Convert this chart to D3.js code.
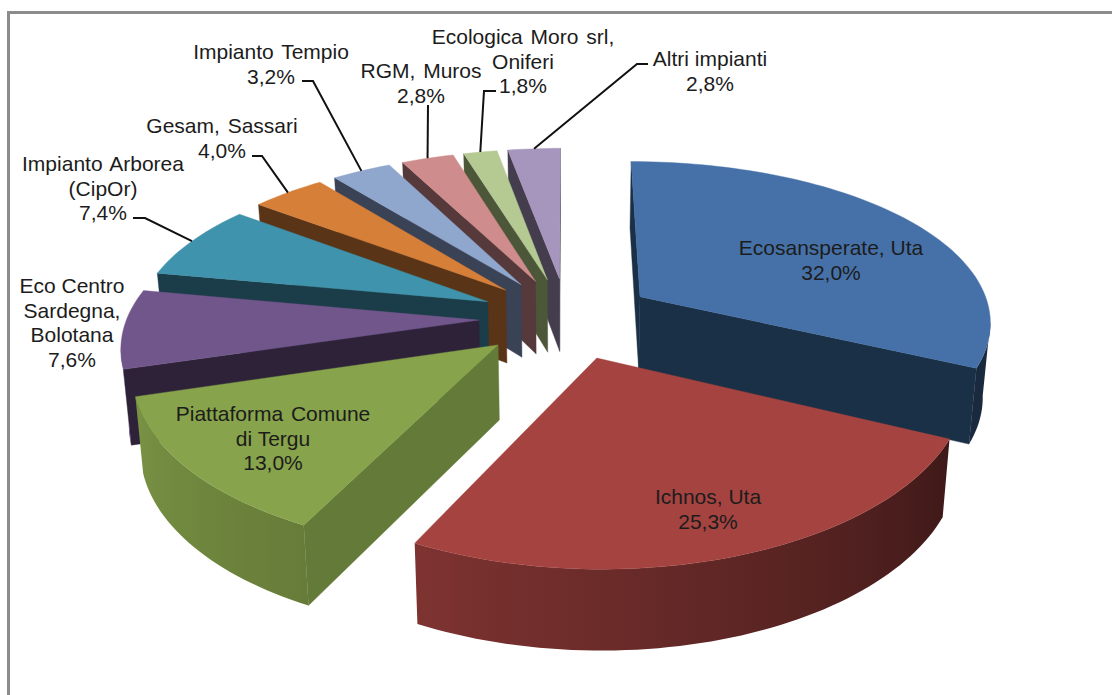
<!DOCTYPE html>
<html><head><meta charset="utf-8">
<script src="https://cdn.jsdelivr.net/npm/d3@7/dist/d3.min.js"></script>
<style>html,body{margin:0;padding:0;background:#fff;overflow:hidden}svg{display:block}text{font-family:"Liberation Sans",Arial,sans-serif;font-size:21px;fill:#1c1c1c}</style>
</head><body><svg id="c" width="1112" height="695"></svg>
<script>
const names=[["Ecosansperate, Uta"],["Ichnos, Uta"],["Piattaforma Comune","di Tergu"],["Eco Centro","Sardegna,","Bolotana"],["Impianto Arborea","(CipOr)"],["Gesam, Sassari"],["Impianto Tempio"],["RGM, Muros"],["Ecologica Moro srl,","Oniferi"],["Altri impianti"]];
const values=[32.0,25.3,13.0,7.6,7.4,4.0,3.2,2.8,1.8,2.8];
const topColors=["#4671a8","#a54340","#87a34b","#71568c","#3f93ac","#d67f39","#8fa6cd","#cf8c8c","#b5c992","#a695bc"];
const wallColors=["#1a3046","#4a1f1e","#647a38","#2d2238","#1b3d4a","#5a3416","#3a4256","#56393a","#4c5739","#433d4d"];
// layout constants
const labelX=[831,708,273,72,103,222,271,421,523,710];
const labelY=[248,497,414,286,164,126,52,71,37,59];
const knees=[null,null,null,null,[[133,218],[145,218]],[[252,156],[262,156]],[[302,81],[313,81]],[[428,105]],[[496,91],[484,91]],[[648,64],[637,64]]];
const drawOrder=[9,8,7,6,5,4,3,0,1,2];
const wide=new Set(["Impianto Tempio","Gesam, Sassari","RGM, Muros","Impianto Arborea","Piattaforma Comune","Ecologica Moro srl,"]);
const cx=567,cy=318,A=352,B=163,kx=0.14,ky=0.16,e=0.25,zs=0.982;
const depth=w=>72+(1.04-w)*50;
function P(th,mid,r,bottom){
  const xw=e*Math.sin(mid)+r*Math.sin(th), yw=-(e*Math.cos(mid)+r*Math.cos(th)), w=1-ky*yw;
  const s=bottom?zs:1;
  return [cx+A*xw/(1-kx*yw)*s, cy+B*yw/w*(bottom?0.99:1)+(bottom?depth(w):0)];
}
const shade=d3.scaleLinear().domain([0,115,206,253,360]).range([.36,.37,.76,.9,.9]);
const svg=d3.select("#c");
const defs=svg.append("defs");
const line=d3.line();
svg.append("path").attr("d","M8.5,695V12.5H1112").attr("fill","none").attr("stroke","#8c8c8c").attr("stroke-width",3);
const arcs=d3.pie().sort(null).value(d=>d).startAngle(0).endAngle(2*Math.PI)(values);
const g=svg.selectAll("g.slice").data(drawOrder.map(i=>({i,a:arcs[i]}))).join("g").attr("class","slice");
g.each(function({i,a}){
  const sel=d3.select(this), mid=(a.startAngle+a.endAngle)/2;
  const n=Math.max(2,Math.ceil((a.endAngle-a.startAngle)/(Math.PI/120)));
  const ths=d3.range(n+1).map(j=>a.startAngle+(a.endAngle-a.startAngle)*j/n);
  const apex=P(0,mid,0,false), apexB=P(0,mid,0,true);
  const radial=t=>sel.append("path").attr("d",line([apex,P(t,mid,1,false),P(t,mid,1,true),apexB])+"Z").attr("fill",wallColors[i]).attr("stroke",wallColors[i]).attr("stroke-width",.4);
  // only walls that face the viewer: the rim is walked clockwise, so these run leftward
  if(P(a.startAngle,mid,1,false)[0]<apex[0]) radial(a.startAngle);
  if(P(a.endAngle,mid,1,false)[0]>apex[0]) radial(a.endAngle);
  const front=ths.filter((t,j)=>j<n&&P(ths[j+1],mid,1,false)[0]<P(t,mid,1,false)[0]);
  if(front.length){
    const run=[...front,front[front.length-1]+(a.endAngle-a.startAngle)/n];
    const xs=run.map(t=>P(t,mid,1,false)[0]), x0=d3.min(xs), x1=d3.max(xs), id="wall"+i;
    const grad=defs.append("linearGradient").attr("id",id).attr("gradientUnits","userSpaceOnUse").attr("x1",x0).attr("x2",x1).attr("y1",0).attr("y2",0);
    run.slice().reverse().forEach(t=>{
      grad.append("stop").attr("offset",(P(t,mid,1,false)[0]-x0)/(x1-x0)).attr("stop-color",d3.interpolateRgb("#000",topColors[i])(shade(t*180/Math.PI)));
    });
    sel.append("path").attr("d",line([...run.map(t=>P(t,mid,1,false)),...run.slice().reverse().map(t=>P(t,mid,1,true))])+"Z").attr("fill",`url(#${id})`);
  }
  sel.append("path").attr("d",line([apex,...ths.map(t=>P(t,mid,1,false))])+"Z").attr("fill",topColors[i]).attr("stroke",topColors[i]).attr("stroke-width",.4);
});
// leaders
arcs.forEach((a,i)=>{
  if(!knees[i])return;
  const mid=(a.startAngle+a.endAngle)/2;
  svg.append("path").attr("d",line([...knees[i],P(mid,mid,1,false)])).attr("fill","none").attr("stroke","#111").attr("stroke-width",2);
});
// labels
values.forEach((v,i)=>{
  const lines=[...names[i],v.toFixed(1).replace(".",",")+"%"];
  lines.forEach((t,j)=>{
    svg.append("text").attr("x",labelX[i]).attr("y",labelY[i]+j*24.5).attr("dy","0.35em").attr("text-anchor","middle").attr("word-spacing",wide.has(t)?2:0).text(t);
  });
});
</script></body></html>
